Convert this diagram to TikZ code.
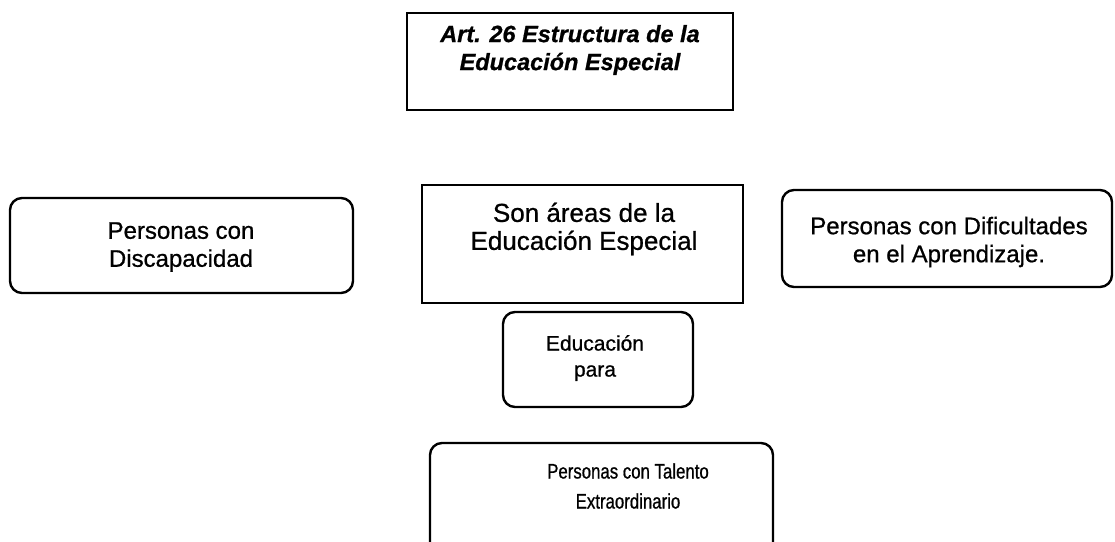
\documentclass[tikz,border=0pt]{standalone}
\usepackage{fontspec}
\setmainfont{Liberation Sans}[FakeBold=0.8]
\newfontfamily\narrowfont{Liberation Sans}[FakeStretch=0.8, FakeBold=0.8]
\begin{document}
\begin{tikzpicture}[x=1pt,y=-1pt,
  sqbox/.style={draw=black, line width=2.6pt, inner sep=0pt, outer sep=0pt},
  rdbox/.style={draw=black, line width=2.4pt, rounded corners=12pt, inner sep=0pt, outer sep=0pt},
  lbl/.style={align=center, inner sep=0pt, text=black}]
\clip (0,0) rectangle (1115,541);
\fill[white] (0,0) rectangle (1115,541);
% boxes
\node[sqbox, minimum width=326pt, minimum height=97pt] (art) at (570,61.5) {};
\node[rdbox, minimum width=343pt, minimum height=95pt] (disc) at (181.5,245.5) {};
\node[sqbox, minimum width=321pt, minimum height=118pt] (areas) at (582.5,244) {};
\node[rdbox, minimum width=330pt, minimum height=97pt] (dif) at (947,238.5) {};
\node[rdbox, minimum width=190pt, minimum height=95pt] (edu) at (598,359.5) {};
\node[rdbox, minimum width=343pt, minimum height=125pt] (tal) at (601.5,505.5) {};
% texts
\node[lbl, font=\fontsize{23.5}{28}\selectfont\bfseries\itshape] (tart) at (570,50) {Art. 26 Estructura de la\\Educación Especial};
\node[lbl, font=\fontsize{24}{28}\selectfont] (tdisc) at (181,247) {Personas con\\Discapacidad};
\node[lbl, font=\fontsize{26}{28}\selectfont] (tareas) at (584,229) {Son áreas de la\\Educación Especial};
\node[lbl, font=\fontsize{24}{28}\selectfont] (tdif) at (949,242) {Personas con Dificultades\\en el Aprendizaje.};
\node[lbl, font=\fontsize{21}{26}\selectfont] (tedu) at (595,358) {Educación\\para};
\node[lbl, font=\narrowfont\fontsize{21}{30}\selectfont] (ttal) at (628,486) {Personas con Talento\\Extraordinario};
\end{tikzpicture}
\end{document}
